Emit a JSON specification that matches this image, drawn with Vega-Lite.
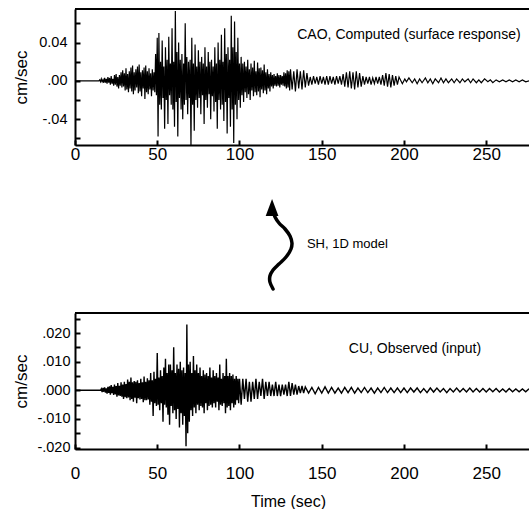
{
 "$schema": "https://vega.github.io/schema/vega-lite/v6.json",
 "padding": {"left": 12, "top": 8, "right": 0, "bottom": 0},
 "bounds": "flush",
 "spacing": 20,
 "resolve": {"scale": {"x": "independent", "y": "independent"}},
 "config": {
  "font": "Liberation Sans",
  "view": {"stroke": null},
  "axis": {"grid": false, "domainColor": "black", "domainWidth": 2, "tickColor": "black", "tickWidth": 2, "labelColor": "black", "titleColor": "black", "labelFont": "Liberation Sans", "titleFont": "Liberation Sans", "titleFontWeight": "normal", "labelOverlap": false, "labelFlush": false}
 },
 "datasets": {
  "cao": [
   {"t":0,"v":0},{"t":5,"v":0},{"t":10,"v":0},{"t":14.5,"v":0},
   {"t":15,"v":0.001},{"t":15.5,"v":-0.001},{"t":16,"v":0.002},{"t":16.5,"v":-0.001},{"t":17,"v":0.001},{"t":17.5,"v":-0.002},{"t":18,"v":0.003},{"t":18.5,"v":-0.002},{"t":19,"v":0.002},{"t":19.5,"v":-0.003},{"t":20,"v":0.004},{"t":20.5,"v":-0.002},{"t":21,"v":0.003},{"t":21.5,"v":-0.004},{"t":22,"v":0.005},{"t":22.5,"v":-0.003},{"t":23,"v":0.002},{"t":23.5,"v":-0.005},{"t":24,"v":0.006},{"t":24.5,"v":-0.004},{"t":25,"v":0.007},{"t":25.5,"v":-0.006},{"t":26,"v":0.004},{"t":26.5,"v":-0.008},{"t":27,"v":0.006},{"t":27.5,"v":-0.005},{"t":28,"v":0.009},{"t":28.5,"v":-0.007},{"t":29,"v":0.011},{"t":29.5,"v":-0.006},{"t":30,"v":0.008},{"t":30.5,"v":-0.010},
   {"t":31,"v":0.013},{"t":31.5,"v":-0.009},{"t":32,"v":0.007},{"t":32.5,"v":-0.012},{"t":33,"v":0.010},{"t":33.5,"v":-0.008},{"t":34,"v":0.014},{"t":34.5,"v":-0.011},{"t":35,"v":0.016},{"t":35.5,"v":-0.014},{"t":36,"v":0.009},{"t":36.5,"v":-0.010},{"t":37,"v":0.012},{"t":37.5,"v":-0.007},{"t":38,"v":0.015},{"t":38.5,"v":-0.013},{"t":39,"v":0.017},{"t":39.5,"v":-0.011},{"t":40,"v":0.009},{"t":40.5,"v":-0.016},{"t":41,"v":0.011},{"t":41.5,"v":-0.008},{"t":42,"v":0.014},{"t":42.5,"v":-0.019},{"t":43,"v":0.016},{"t":43.5,"v":-0.012},{"t":44,"v":0.010},{"t":44.5,"v":-0.014},{"t":45,"v":0.013},{"t":45.5,"v":-0.009},{"t":46,"v":0.008},{"t":46.5,"v":-0.016},{"t":47,"v":0.012},{"t":47.5,"v":-0.010},{"t":48,"v":0.009},{"t":48.5,"v":-0.012},
   {"t":49,"v":0.028},{"t":49.5,"v":-0.015},{"t":50,"v":0.045},{"t":50.5,"v":-0.058},{"t":51,"v":0.050},{"t":51.5,"v":-0.025},{"t":52,"v":0.020},{"t":52.5,"v":-0.030},{"t":53,"v":0.042},{"t":53.5,"v":-0.018},{"t":54,"v":0.015},{"t":54.5,"v":-0.050},{"t":55,"v":0.035},{"t":55.5,"v":-0.020},{"t":56,"v":0.022},{"t":56.5,"v":-0.045},{"t":57,"v":0.046},{"t":57.5,"v":-0.015},{"t":58,"v":0.018},{"t":58.5,"v":-0.025},{"t":59,"v":0.055},{"t":59.5,"v":-0.030},{"t":60,"v":0.020},{"t":60.5,"v":-0.048},{"t":61,"v":0.073},{"t":61.5,"v":-0.022},{"t":62,"v":0.030},{"t":62.5,"v":-0.058},{"t":63,"v":0.040},{"t":63.5,"v":-0.018},{"t":64,"v":0.022},{"t":64.5,"v":-0.030},{"t":65,"v":0.028},{"t":65.5,"v":-0.040},{"t":66,"v":0.018},{"t":66.5,"v":-0.025},{"t":67,"v":0.060},{"t":67.5,"v":-0.020},{"t":68,"v":0.025},{"t":68.5,"v":-0.035},{"t":69,"v":0.020},{"t":69.5,"v":-0.018},{"t":70,"v":0.022},{"t":70.5,"v":-0.068},{"t":71,"v":0.045},{"t":71.5,"v":-0.025},{"t":72,"v":0.018},{"t":72.5,"v":-0.052},{"t":73,"v":0.038},{"t":73.5,"v":-0.020},{"t":74,"v":0.015},{"t":74.5,"v":-0.028},
   {"t":75,"v":0.032},{"t":75.5,"v":-0.018},{"t":76,"v":0.020},{"t":76.5,"v":-0.035},{"t":77,"v":0.025},{"t":77.5,"v":-0.015},{"t":78,"v":0.018},{"t":78.5,"v":-0.045},{"t":79,"v":0.035},{"t":79.5,"v":-0.020},{"t":80,"v":0.015},{"t":80.5,"v":-0.028},{"t":81,"v":0.030},{"t":81.5,"v":-0.014},{"t":82,"v":0.020},{"t":82.5,"v":-0.040},{"t":83,"v":0.022},{"t":83.5,"v":-0.016},{"t":84,"v":0.015},{"t":84.5,"v":-0.032},{"t":85,"v":0.035},{"t":85.5,"v":-0.022},{"t":86,"v":0.018},{"t":86.5,"v":-0.050},{"t":87,"v":0.040},{"t":87.5,"v":-0.020},{"t":88,"v":0.022},{"t":88.5,"v":-0.030},{"t":89,"v":0.048},{"t":89.5,"v":-0.025},{"t":90,"v":0.020},{"t":90.5,"v":-0.042},{"t":91,"v":0.055},{"t":91.5,"v":-0.022},{"t":92,"v":0.028},{"t":92.5,"v":-0.055},{"t":93,"v":0.035},{"t":93.5,"v":-0.018},{"t":94,"v":0.022},{"t":94.5,"v":-0.048},{"t":95,"v":0.068},{"t":95.5,"v":-0.030},{"t":96,"v":0.035},{"t":96.5,"v":-0.065},{"t":97,"v":0.062},{"t":97.5,"v":-0.025},{"t":98,"v":0.030},{"t":98.5,"v":-0.040},{"t":99,"v":0.045},{"t":99.5,"v":-0.020},{"t":100,"v":0.018},{"t":100.5,"v":-0.028},
   {"t":101,"v":0.025},{"t":101.5,"v":-0.015},{"t":102,"v":0.018},{"t":102.5,"v":-0.022},{"t":103,"v":0.020},{"t":103.5,"v":-0.012},{"t":104,"v":0.015},{"t":104.5,"v":-0.018},{"t":105,"v":0.022},{"t":105.5,"v":-0.014},{"t":106,"v":0.012},{"t":106.5,"v":-0.020},{"t":107,"v":0.018},{"t":107.5,"v":-0.010},{"t":108,"v":0.014},{"t":108.5,"v":-0.016},{"t":109,"v":0.021},{"t":109.5,"v":-0.012},{"t":110,"v":0.010},{"t":110.5,"v":-0.015},{"t":111,"v":0.019},{"t":111.5,"v":-0.011},{"t":112,"v":0.013},{"t":112.5,"v":-0.017},{"t":113,"v":0.014},{"t":113.5,"v":-0.009},{"t":114,"v":0.011},{"t":114.5,"v":-0.013},{"t":115,"v":0.017},{"t":115.5,"v":-0.010},{"t":116,"v":0.009},{"t":116.5,"v":-0.014},{"t":117,"v":0.012},{"t":117.5,"v":-0.008},{"t":118,"v":0.007},{"t":118.5,"v":-0.011},{"t":119,"v":0.009},{"t":119.5,"v":-0.006},{"t":120,"v":0.006},{"t":120.5,"v":-0.008},{"t":121,"v":0.007},{"t":121.5,"v":-0.005},{"t":122,"v":0.005},{"t":122.5,"v":-0.006},{"t":123,"v":0.008},{"t":123.5,"v":-0.005},{"t":124,"v":0.006},{"t":124.5,"v":-0.007},{"t":125,"v":0.006},{"t":125.5,"v":-0.004},{"t":126,"v":0.005},{"t":126.5,"v":-0.005},{"t":127,"v":0.009},{"t":127.5,"v":-0.006},{"t":128,"v":0.008},{"t":128.5,"v":-0.008},{"t":129,"v":0.011},{"t":129.5,"v":-0.007},{"t":130,"v":0.010},{"t":130.5,"v":-0.010},
   {"t":131,"v":0.012},{"t":132,"v":-0.009},{"t":133,"v":0.010},{"t":134,"v":-0.011},{"t":135,"v":0.012},{"t":136,"v":-0.008},{"t":137,"v":0.010},{"t":138,"v":-0.009},{"t":139,"v":0.011},{"t":140,"v":-0.007},{"t":141,"v":0.008},{"t":142,"v":-0.005},{"t":143,"v":0.004},{"t":144,"v":-0.004},{"t":145,"v":0.005},{"t":146,"v":-0.003},{"t":147,"v":0.004},{"t":148,"v":-0.004},{"t":149,"v":0.005},{"t":150,"v":-0.003},
   {"t":151,"v":0.004},{"t":152,"v":-0.004},{"t":153,"v":0.005},{"t":154,"v":-0.004},{"t":155,"v":0.005},{"t":156,"v":-0.003},{"t":157,"v":0.004},{"t":158,"v":-0.004},{"t":159,"v":0.005},{"t":160,"v":-0.003},{"t":161,"v":0.005},{"t":162,"v":-0.004},{"t":163,"v":0.007},{"t":164,"v":-0.006},{"t":165,"v":0.009},{"t":166,"v":-0.007},{"t":167,"v":0.010},{"t":168,"v":-0.008},{"t":169,"v":0.009},{"t":170,"v":-0.009},{"t":171,"v":0.010},{"t":172,"v":-0.007},{"t":173,"v":0.008},{"t":174,"v":-0.006},{"t":175,"v":0.005},{"t":176,"v":-0.004},{"t":177,"v":0.004},{"t":178,"v":-0.003},{"t":179,"v":0.004},{"t":180,"v":-0.004},{"t":181,"v":0.003},{"t":182,"v":-0.003},{"t":183,"v":0.004},{"t":184,"v":-0.003},{"t":185,"v":0.004},{"t":186,"v":-0.004},{"t":187,"v":0.006},{"t":188,"v":-0.005},{"t":189,"v":0.008},{"t":190,"v":-0.006},{"t":191,"v":0.007},{"t":192,"v":-0.007},{"t":193,"v":0.006},{"t":194,"v":-0.005},{"t":195,"v":0.005},{"t":196,"v":-0.004},{"t":197,"v":0.004},
   {"t":199,"v":-0.003},{"t":200.5,"v":0.002},{"t":201.5,"v":-0.001},{"t":203,"v":0.003},{"t":205,"v":-0.002},{"t":206.5,"v":0.002},{"t":208,"v":-0.003},{"t":209.5,"v":0.002},{"t":211,"v":-0.002},{"t":213,"v":0.003},{"t":214.5,"v":-0.002},{"t":216,"v":0.002},{"t":217.5,"v":-0.003},{"t":219,"v":0.002},{"t":221,"v":-0.002},{"t":222.5,"v":0.003},{"t":224,"v":-0.002},{"t":225.5,"v":0.002},{"t":227,"v":-0.002},{"t":229,"v":0.002},{"t":230.5,"v":-0.002},{"t":232,"v":0.002},{"t":234,"v":-0.002},{"t":235.5,"v":0.002},{"t":237,"v":-0.001},{"t":239,"v":0.002},{"t":240.5,"v":-0.002},{"t":242,"v":0.002},{"t":244,"v":-0.002},{"t":245.5,"v":0.001},{"t":247,"v":-0.002},{"t":249,"v":0.002},{"t":251,"v":-0.001},{"t":252.5,"v":0.001},{"t":254,"v":-0.002},{"t":256,"v":0.001},{"t":258,"v":-0.001},{"t":260,"v":0.001},{"t":262,"v":-0.001},{"t":264,"v":0.001},{"t":266,"v":-0.001},{"t":268,"v":0.001},{"t":270,"v":-0.001},{"t":272,"v":0.001},{"t":274,"v":-0.001},{"t":277,"v":0.0005}
  ],
  "cu": [
   {"t":0,"v":0},{"t":5,"v":0},{"t":10,"v":0},{"t":15.5,"v":0},
   {"t":16,"v":0.0005},{"t":16.5,"v":-0.0006},{"t":17,"v":0.0008},{"t":17.5,"v":-0.0005},{"t":18,"v":0.001},{"t":18.5,"v":-0.0008},{"t":19,"v":0.0007},{"t":19.5,"v":-0.0012},{"t":20,"v":0.0012},{"t":20.5,"v":-0.0009},{"t":21,"v":0.0014},{"t":21.5,"v":-0.0015},{"t":22,"v":0.0018},{"t":22.5,"v":-0.001},{"t":23,"v":0.0012},{"t":23.5,"v":-0.0016},{"t":24,"v":0.002},{"t":24.5,"v":-0.0014},{"t":25,"v":0.0015},{"t":25.5,"v":-0.0022},{"t":26,"v":0.0025},{"t":26.5,"v":-0.0018},{"t":27,"v":0.0016},{"t":27.5,"v":-0.002},{"t":28,"v":0.0028},{"t":28.5,"v":-0.0022},{"t":29,"v":0.002},{"t":29.5,"v":-0.003},{"t":30,"v":0.003},{"t":30.5,"v":-0.0024},
   {"t":31,"v":0.0022},{"t":31.5,"v":-0.0028},{"t":32,"v":0.0038},{"t":32.5,"v":-0.0025},{"t":33,"v":0.003},{"t":33.5,"v":-0.0035},{"t":34,"v":0.0045},{"t":34.5,"v":-0.003},{"t":35,"v":0.0028},{"t":35.5,"v":-0.004},{"t":36,"v":0.0032},{"t":36.5,"v":-0.0026},{"t":37,"v":0.003},{"t":37.5,"v":-0.0045},{"t":38,"v":0.0035},{"t":38.5,"v":-0.0028},{"t":39,"v":0.0025},{"t":39.5,"v":-0.0032},{"t":40,"v":0.004},{"t":40.5,"v":-0.003},{"t":41,"v":0.0028},{"t":41.5,"v":-0.0042},{"t":42,"v":0.0048},{"t":42.5,"v":-0.0035},{"t":43,"v":0.003},{"t":43.5,"v":-0.0035},{"t":44,"v":0.0042},{"t":44.5,"v":-0.0032},{"t":45,"v":0.0035},{"t":45.5,"v":-0.005},{"t":46,"v":0.006},{"t":46.5,"v":-0.004},{"t":47,"v":0.0035},{"t":47.5,"v":-0.009},{"t":48,"v":0.0065},{"t":48.5,"v":-0.0045},{"t":49,"v":0.004},{"t":49.5,"v":-0.0055},{"t":50,"v":0.013},{"t":50.5,"v":-0.005},
   {"t":51,"v":0.0045},{"t":51.5,"v":-0.007},{"t":52,"v":0.007},{"t":52.5,"v":-0.0045},{"t":53,"v":0.005},{"t":53.5,"v":-0.011},{"t":54,"v":0.008},{"t":54.5,"v":-0.005},{"t":55,"v":0.011},{"t":55.5,"v":-0.006},{"t":56,"v":0.006},{"t":56.5,"v":-0.0085},{"t":57,"v":0.009},{"t":57.5,"v":-0.012},{"t":58,"v":0.009},{"t":58.5,"v":-0.0055},{"t":59,"v":0.007},{"t":59.5,"v":-0.008},{"t":60,"v":0.015},{"t":60.5,"v":-0.007},{"t":61,"v":0.006},{"t":61.5,"v":-0.01},{"t":62,"v":0.009},{"t":62.5,"v":-0.0065},{"t":63,"v":0.0075},{"t":63.5,"v":-0.013},{"t":64,"v":0.01},{"t":64.5,"v":-0.008},{"t":65,"v":0.007},{"t":65.5,"v":-0.012},{"t":66,"v":0.008},{"t":66.5,"v":-0.009},{"t":67,"v":0.006},{"t":67.5,"v":-0.0195},{"t":68,"v":0.023},{"t":68.5,"v":-0.015},{"t":69,"v":0.009},{"t":69.5,"v":-0.011},{"t":70,"v":0.01},{"t":70.5,"v":-0.007},{"t":71,"v":0.006},{"t":71.5,"v":-0.009},{"t":72,"v":0.012},{"t":72.5,"v":-0.006},{"t":73,"v":0.007},{"t":73.5,"v":-0.008},{"t":74,"v":0.009},{"t":74.5,"v":-0.005},
   {"t":75,"v":0.006},{"t":75.5,"v":-0.007},{"t":76,"v":0.008},{"t":76.5,"v":-0.0055},{"t":77,"v":0.005},{"t":77.5,"v":-0.006},{"t":78,"v":0.007},{"t":78.5,"v":-0.008},{"t":79,"v":0.0055},{"t":79.5,"v":-0.0045},{"t":80,"v":0.006},{"t":80.5,"v":-0.007},{"t":81,"v":0.005},{"t":81.5,"v":-0.0055},{"t":82,"v":0.008},{"t":82.5,"v":-0.005},{"t":83,"v":0.0045},{"t":83.5,"v":-0.006},{"t":84,"v":0.007},{"t":84.5,"v":-0.0045},{"t":85,"v":0.005},{"t":85.5,"v":-0.006},{"t":86,"v":0.006},{"t":86.5,"v":-0.004},{"t":87,"v":0.0045},{"t":87.5,"v":-0.007},{"t":88,"v":0.009},{"t":88.5,"v":-0.005},{"t":89,"v":0.004},{"t":89.5,"v":-0.0055},{"t":90,"v":0.006},{"t":90.5,"v":-0.0045},{"t":91,"v":0.005},{"t":91.5,"v":-0.008},{"t":92,"v":0.011},{"t":92.5,"v":-0.006},{"t":93,"v":0.005},{"t":93.5,"v":-0.0055},{"t":94,"v":0.006},{"t":94.5,"v":-0.007},{"t":95,"v":0.005},{"t":95.5,"v":-0.0045},{"t":96,"v":0.0055},{"t":96.5,"v":-0.006},{"t":97,"v":0.004},{"t":97.5,"v":-0.005},{"t":98,"v":0.005},{"t":98.5,"v":-0.0035},{"t":99,"v":0.004},{"t":99.5,"v":-0.0045},{"t":100,"v":0.004},
   {"t":101,"v":-0.005},{"t":102,"v":0.004},{"t":103,"v":-0.003},{"t":104,"v":0.004},{"t":105,"v":-0.004},{"t":106,"v":0.003},{"t":107,"v":-0.004},{"t":108,"v":0.003},{"t":109,"v":-0.003},{"t":110,"v":0.004},{"t":111,"v":-0.003},{"t":112,"v":0.003},{"t":113,"v":-0.002},{"t":114,"v":0.004},{"t":115,"v":-0.003},{"t":116,"v":0.003},{"t":117,"v":-0.002},{"t":118,"v":0.003},{"t":119,"v":-0.002},{"t":120,"v":0.002},{"t":121,"v":-0.002},{"t":122,"v":0.003},{"t":123,"v":-0.002},{"t":124,"v":0.002},{"t":125,"v":-0.002},{"t":126,"v":0.002},{"t":127,"v":-0.0015},{"t":128,"v":0.002},{"t":129,"v":-0.002},{"t":130,"v":0.003},{"t":131,"v":-0.002},{"t":132,"v":0.0025},{"t":133,"v":-0.0015},{"t":134,"v":0.002},{"t":135,"v":-0.0015},{"t":136,"v":0.0015},{"t":137,"v":-0.001},{"t":138,"v":0.0015},{"t":139,"v":-0.001},{"t":140,"v":0.0012},
   {"t":142,"v":-0.001},{"t":144,"v":0.001},{"t":146,"v":-0.0012},{"t":148,"v":0.001},{"t":150,"v":-0.001},{"t":152,"v":0.0012},{"t":154,"v":-0.001},{"t":156,"v":0.001},{"t":158,"v":-0.001},{"t":160,"v":0.0008},{"t":162,"v":-0.001},{"t":164,"v":0.001},{"t":166,"v":-0.0008},{"t":168,"v":0.001},{"t":170,"v":-0.001},{"t":172,"v":0.0008},{"t":174,"v":-0.0008},{"t":176,"v":0.001},{"t":178,"v":-0.0008},{"t":180,"v":0.0008},{"t":182,"v":-0.001},{"t":184,"v":0.0008},{"t":186,"v":-0.0008},{"t":188,"v":0.001},{"t":190,"v":-0.0008},{"t":192,"v":0.0008},{"t":194,"v":-0.0008},{"t":196,"v":0.0008},{"t":198,"v":-0.0008},{"t":200,"v":0.0008},{"t":202,"v":-0.0008},{"t":204,"v":0.0008},{"t":206,"v":-0.0006},{"t":208,"v":0.0008},{"t":210,"v":-0.0008},{"t":212,"v":0.0006},{"t":214,"v":-0.0008},{"t":216,"v":0.0008},{"t":218,"v":-0.0006},{"t":220,"v":0.0008},{"t":222,"v":-0.0006},{"t":224,"v":0.0006},{"t":226,"v":-0.0008},{"t":228,"v":0.0006},{"t":230,"v":-0.0006},{"t":232,"v":0.0008},{"t":234,"v":-0.0006},{"t":236,"v":0.0006},{"t":238,"v":-0.0006},{"t":240,"v":0.0008},{"t":242,"v":-0.0006},{"t":244,"v":0.0006},{"t":246,"v":-0.0006},{"t":248,"v":0.0006},{"t":250,"v":-0.0006},{"t":252,"v":0.0006},{"t":254,"v":-0.0005},{"t":256,"v":0.0006},{"t":258,"v":-0.0006},{"t":260,"v":0.0005},{"t":262,"v":-0.0006},{"t":264,"v":0.0006},{"t":266,"v":-0.0005},{"t":268,"v":0.0005},{"t":270,"v":-0.0005},{"t":272,"v":0.0005},{"t":274,"v":-0.0005},{"t":276,"v":0.0005}
  ],
  "arrow": [
   {"i":1,"t":120.4,"h":4},{"i":2,"t":118.5,"h":11},{"i":3,"t":118.5,"h":17},{"i":4,"t":120.4,"h":23},{"i":5,"t":124.0,"h":29},{"i":6,"t":128.3,"h":36},{"i":7,"t":131.3,"h":44},{"i":8,"t":131.9,"h":50},{"i":9,"t":130.7,"h":57},{"i":10,"t":127.7,"h":64},{"i":11,"t":124.0,"h":70},{"i":12,"t":121.6,"h":76},{"i":13,"t":120.4,"h":82},{"i":14,"t":119.8,"h":87}
  ]
 },
 "vconcat": [
  {
   "width": 454, "height": 136,
   "layer": [
    {"data": {"name": "cao"},
     "mark": {"type": "line", "color": "black", "strokeWidth": 1.2, "clip": true},
     "encoding": {
      "x": {"field": "t", "type": "quantitative", "scale": {"domain": [0, 276], "nice": false, "zero": false},
            "axis": {"values": [0, 50, 100, 150, 200, 250], "tickCount": 20, "title": null, "format": "d", "labelFontSize": 17, "labelPadding": 6, "tickSize": -5, "labelOverlap": false}},
      "y": {"field": "v", "type": "quantitative", "scale": {"domain": [-0.067, 0.075], "nice": false, "zero": false},
            "axis": {"values": [-0.06, -0.04, -0.02, 0, 0.02, 0.04, 0.06], "tickCount": 20, "labelOverlap": false,
                     "labelExpr": "datum.value > 0.03 && datum.value < 0.05 ? '0.04' : (abs(datum.value) < 0.001 ? '.00' : (datum.value < -0.03 && datum.value > -0.05 ? '-.04' : ''))",
                     "title": "cm/sec", "titleFontSize": 17, "labelFontSize": 14.5, "labelPadding": 13, "tickSize": -5, "titlePadding": 8}}
     }},
    {"data": {"values": [{}]},
     "mark": {"type": "rule", "color": "black", "strokeWidth": 2},
     "encoding": {"y": {"datum": 0.075}}},
    {"data": {"values": [{}]},
     "mark": {"type": "text", "fontSize": 14, "align": "center", "baseline": "middle", "color": "black"},
     "encoding": {"x": {"datum": 203}, "y": {"datum": 0.048}, "text": {"value": "CAO, Computed (surface response)"}}}
   ]
  },
  {
   "width": 454, "height": 128,
   "layer": [
    {"data": {"name": "arrow"},
     "mark": {"type": "line", "color": "black", "strokeWidth": 3.5, "interpolate": "catmull-rom", "strokeCap": "round"},
     "encoding": {
      "x": {"field": "t", "type": "quantitative", "scale": {"domain": [0, 276], "nice": false, "zero": false}, "axis": null},
      "y": {"field": "h", "type": "quantitative", "scale": {"domain": [0, 128], "nice": false, "zero": false}, "axis": null},
      "order": {"field": "i"}
     }},
    {"data": {"values": [{}]},
     "mark": {"type": "point", "shape": "M0,-1L-0.75,1L0.75,1Z", "size": 289, "filled": true, "color": "black", "opacity": 1},
     "encoding": {"x": {"datum": 119.8}, "y": {"datum": 85.5}}},
    {"data": {"values": [{}]},
     "mark": {"type": "text", "fontSize": 13, "align": "left", "baseline": "middle", "color": "black"},
     "encoding": {"x": {"datum": 141}, "y": {"datum": 49}, "text": {"value": "SH, 1D model"}}}
   ]
  },
  {
   "width": 454, "height": 136,
   "layer": [
    {"data": {"name": "cu"},
     "mark": {"type": "line", "color": "black", "strokeWidth": 1.4, "clip": true},
     "encoding": {
      "x": {"field": "t", "type": "quantitative", "scale": {"domain": [0, 276], "nice": false, "zero": false},
            "axis": {"values": [0, 50, 100, 150, 200, 250], "tickCount": 20, "title": "Time (sec)", "titleFontSize": 16, "titlePadding": 12, "titleX": 213, "format": "d", "labelFontSize": 17, "labelPadding": 21, "tickSize": -5, "labelOverlap": false}},
      "y": {"field": "v", "type": "quantitative", "scale": {"domain": [-0.0205, 0.027], "nice": false, "zero": false},
            "axis": {"values": [-0.02, -0.015, -0.01, -0.005, 0, 0.005, 0.01, 0.015, 0.02, 0.025], "tickCount": 20, "labelOverlap": false,
                     "labelExpr": "round(datum.value * 1000) == 20 ? '.020' : (round(datum.value * 1000) == 10 ? '.010' : (round(datum.value * 1000) == 0 ? '.000' : (round(datum.value * 1000) == -10 ? '-.010' : (round(datum.value * 1000) == -20 ? '-.020' : ''))))",
                     "title": "cm/sec", "titleFontSize": 17, "labelFontSize": 14.5, "labelPadding": 10, "tickSize": -5, "titlePadding": 6}}
     }},
    {"data": {"values": [{}]},
     "mark": {"type": "rule", "color": "black", "strokeWidth": 2},
     "encoding": {"y": {"datum": 0.027}}},
    {"data": {"values": [{}]},
     "mark": {"type": "text", "fontSize": 14, "align": "center", "baseline": "middle", "color": "black"},
     "encoding": {"x": {"datum": 206.7}, "y": {"datum": 0.0144}, "text": {"value": "CU, Observed (input)"}}}
   ]
  }
 ]
}
